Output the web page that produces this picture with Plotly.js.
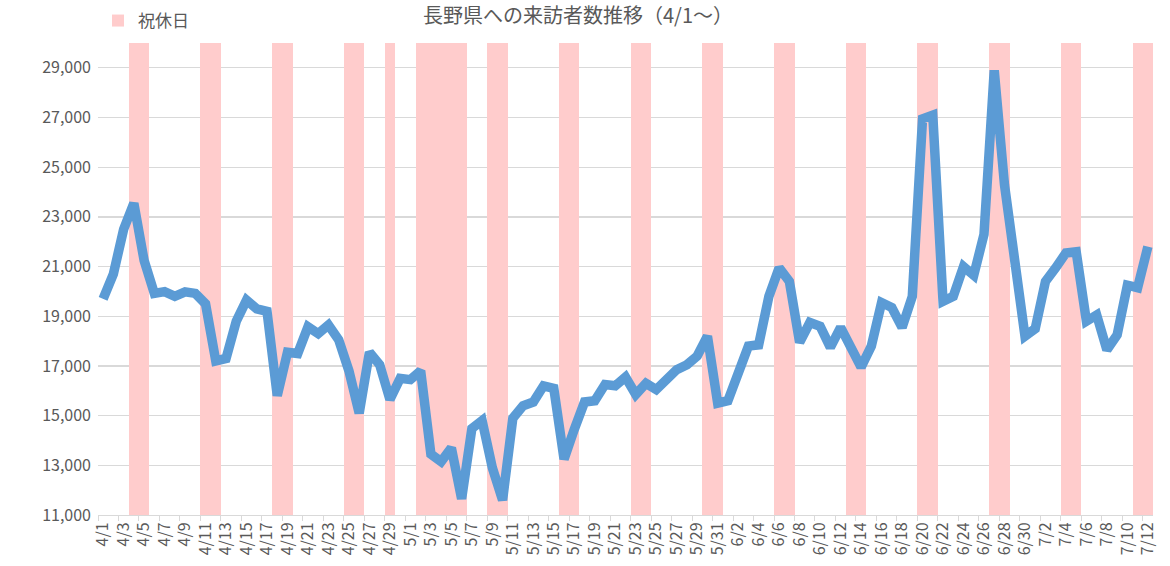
<!DOCTYPE html>
<html>
<head>
<meta charset="utf-8">
<script src="https://cdn.plot.ly/plotly-3.0.1.min.js"></script>
<style>html,body{margin:0;padding:0;background:#fff;}#chart{width:1170px;height:566px;}</style>
</head>
<body>
<div id="chart"></div>
<script>
// Dates 4/1 .. 7/12
const dates = [
"4/1","4/2","4/3","4/4","4/5","4/6","4/7","4/8","4/9","4/10","4/11","4/12","4/13","4/14","4/15","4/16","4/17","4/18","4/19","4/20","4/21","4/22","4/23","4/24","4/25","4/26","4/27","4/28","4/29","4/30",
"5/1","5/2","5/3","5/4","5/5","5/6","5/7","5/8","5/9","5/10","5/11","5/12","5/13","5/14","5/15","5/16","5/17","5/18","5/19","5/20","5/21","5/22","5/23","5/24","5/25","5/26","5/27","5/28","5/29","5/30","5/31",
"6/1","6/2","6/3","6/4","6/5","6/6","6/7","6/8","6/9","6/10","6/11","6/12","6/13","6/14","6/15","6/16","6/17","6/18","6/19","6/20","6/21","6/22","6/23","6/24","6/25","6/26","6/27","6/28","6/29","6/30",
"7/1","7/2","7/3","7/4","7/5","7/6","7/7","7/8","7/9","7/10","7/11","7/12"];

// Visitors per day
const visitors = [
19700,20700,22500,23550,21250,19920,19990,19800,19980,19920,19500,17200,17300,18800,19650,19300,19200,15800,17550,17500,18580,18300,18650,18050,16800,15100,17550,17050,15650,16500,
16450,16800,13450,13150,13700,11650,14480,14800,12900,11600,14900,15400,15550,16200,16100,13250,14450,15550,15600,16250,16200,16550,15850,16300,16050,16450,16850,17050,17400,18200,15500,
15600,16800,17800,17850,19800,20950,20400,17950,18750,18600,17750,18550,17800,16950,17800,19550,19350,18550,19800,26950,27100,19600,19800,21000,20650,22300,28900,24300,21250,18200,
18500,20400,20950,21550,21600,18800,19050,17650,18250,20250,20150,21800];

// Weekends and national holidays
const holidays = [
"4/4","4/5","4/11","4/12","4/18","4/19","4/25","4/26","4/29",
"5/2","5/3","5/4","5/5","5/6","5/9","5/10","5/16","5/17","5/23","5/24","5/30","5/31",
"6/6","6/7","6/13","6/14","6/20","6/21","6/27","6/28",
"7/4","7/5","7/11","7/12"];

const holidayLevel = 30000;
const yTicks = [11000,13000,15000,17000,19000,21000,23000,25000,27000,29000];

const holidayBars = dates.map(d => holidays.includes(d) ? holidayLevel : null);

const font = '"Noto Sans CJK JP", "Noto Sans", sans-serif';
const grey = '#595959';

const traces = [
  {
    type: 'bar', x: dates, y: holidayBars, name: '祝休日',
    marker: {color: '#ffcccc', line: {width: 0}},
    hoverinfo: 'skip', showlegend: true
  },
  {
    type: 'scatter', mode: 'lines', x: dates, y: visitors, name: '来訪者数',
    line: {color: '#5b9bd5', width: 9.5, shape: 'linear'},
    showlegend: false
  }
];

const layout = {
  width: 1170, height: 566,
  margin: {l: 98, r: 17, t: 43, b: 51},
  paper_bgcolor: '#ffffff', plot_bgcolor: '#ffffff',
  font: {family: font, color: grey},
  title: {
    text: '長野県への来訪者数推移（4/1～）',
    font: {family: font, size: 20, color: grey},
    x: 0.494, xanchor: 'center', xref: 'container',
    y: 1 - 16/566, yanchor: 'middle', yref: 'container'
  },
  bargap: 0,
  showlegend: true,
  legend: {
    x: 0.0, xanchor: 'left', xref: 'paper',
    y: 1 - 21/566, yanchor: 'middle', yref: 'container',
    font: {family: font, size: 17, color: grey},
    bgcolor: 'rgba(0,0,0,0)', itemwidth: 30
  },
  xaxis: {
    type: 'category',
    tickmode: 'linear', tick0: 0, dtick: 2,
    tickson: 'boundaries',
    ticks: 'outside', ticklen: 5, tickcolor: '#d9d9d9',
    tickangle: -90,
    tickfont: {family: font, size: 16, color: grey},
    showline: true, linecolor: '#d9d9d9', linewidth: 1,
    showgrid: false, zeroline: false,
    range: [-0.5, dates.length - 0.5]
  },
  yaxis: {
    range: [11000, 30000],
    tickmode: 'array', tickvals: yTicks,
    tickformat: ',d',
    tickfont: {family: font, size: 16, color: grey},
    showgrid: true, gridcolor: '#d9d9d9', gridwidth: 1.3,
    zeroline: false, showline: false, ticks: '',
    ticklabelstandoff: 6
  }
};

Plotly.newPlot('chart', traces, layout, {displayModeBar: false, staticPlot: true});
</script>
</body>
</html>
